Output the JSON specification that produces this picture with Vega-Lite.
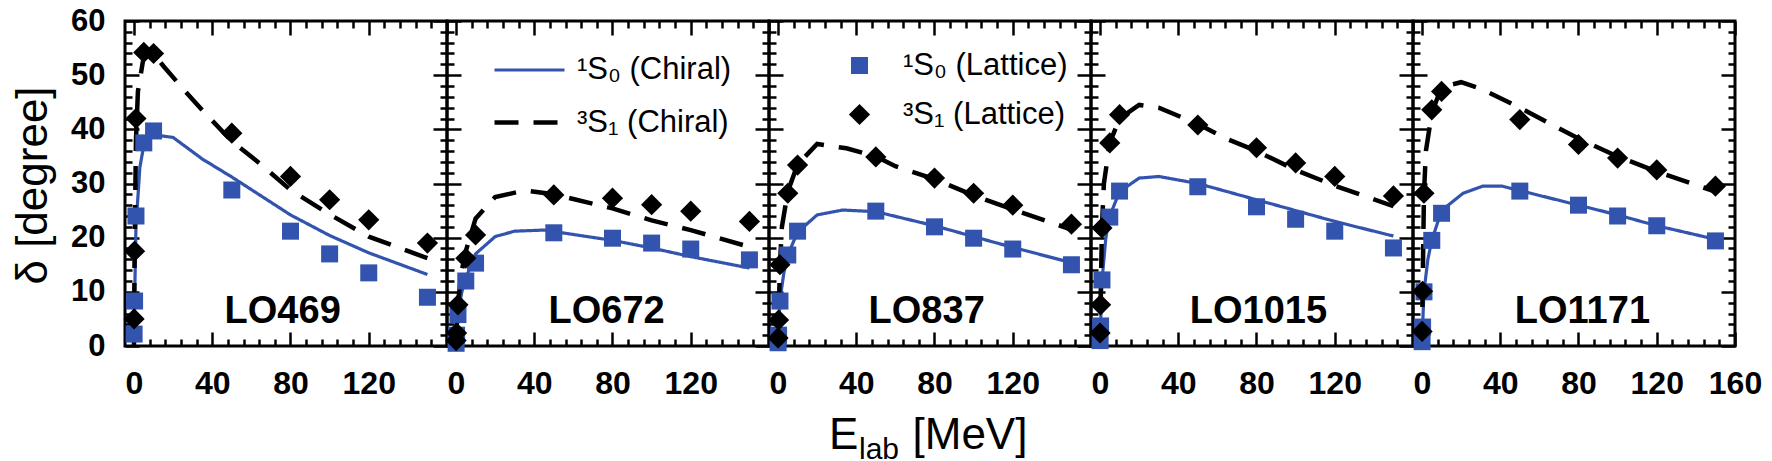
{
  "$schema": "https://vega.github.io/schema/vega-lite/v6.json",
  "background": "white",
  "padding": {"left": 9, "top": 3, "right": 5, "bottom": 5},
  "datasets": {
    "chiral": [
      {"panel": "LO469", "series": "¹S₀ (Chiral)", "E": 0, "delta": 0},
      {"panel": "LO469", "series": "¹S₀ (Chiral)", "E": 0.05, "delta": 2},
      {"panel": "LO469", "series": "¹S₀ (Chiral)", "E": 0.3, "delta": 8},
      {"panel": "LO469", "series": "¹S₀ (Chiral)", "E": 1, "delta": 22},
      {"panel": "LO469", "series": "¹S₀ (Chiral)", "E": 3, "delta": 33},
      {"panel": "LO469", "series": "¹S₀ (Chiral)", "E": 5, "delta": 37},
      {"panel": "LO469", "series": "¹S₀ (Chiral)", "E": 10, "delta": 39},
      {"panel": "LO469", "series": "¹S₀ (Chiral)", "E": 20, "delta": 38.5},
      {"panel": "LO469", "series": "¹S₀ (Chiral)", "E": 35, "delta": 34.5},
      {"panel": "LO469", "series": "¹S₀ (Chiral)", "E": 50, "delta": 31.2},
      {"panel": "LO469", "series": "¹S₀ (Chiral)", "E": 80, "delta": 24.2},
      {"panel": "LO469", "series": "¹S₀ (Chiral)", "E": 100, "delta": 20.4},
      {"panel": "LO469", "series": "¹S₀ (Chiral)", "E": 120, "delta": 17.2},
      {"panel": "LO469", "series": "¹S₀ (Chiral)", "E": 150, "delta": 13.2},
      {"panel": "LO469", "series": "³S₁ (Chiral)", "E": 0, "delta": 0},
      {"panel": "LO469", "series": "³S₁ (Chiral)", "E": 0.05, "delta": 5},
      {"panel": "LO469", "series": "³S₁ (Chiral)", "E": 0.3, "delta": 17},
      {"panel": "LO469", "series": "³S₁ (Chiral)", "E": 1, "delta": 38},
      {"panel": "LO469", "series": "³S₁ (Chiral)", "E": 2, "delta": 47},
      {"panel": "LO469", "series": "³S₁ (Chiral)", "E": 5, "delta": 53.5},
      {"panel": "LO469", "series": "³S₁ (Chiral)", "E": 10, "delta": 54},
      {"panel": "LO469", "series": "³S₁ (Chiral)", "E": 15, "delta": 51.7},
      {"panel": "LO469", "series": "³S₁ (Chiral)", "E": 25, "delta": 47.5},
      {"panel": "LO469", "series": "³S₁ (Chiral)", "E": 35, "delta": 43.5},
      {"panel": "LO469", "series": "³S₁ (Chiral)", "E": 50, "delta": 37.8},
      {"panel": "LO469", "series": "³S₁ (Chiral)", "E": 65, "delta": 33.5},
      {"panel": "LO469", "series": "³S₁ (Chiral)", "E": 80, "delta": 28.8},
      {"panel": "LO469", "series": "³S₁ (Chiral)", "E": 100, "delta": 24.3},
      {"panel": "LO469", "series": "³S₁ (Chiral)", "E": 120, "delta": 20.2},
      {"panel": "LO469", "series": "³S₁ (Chiral)", "E": 150, "delta": 16.2},

      {"panel": "LO672", "series": "¹S₀ (Chiral)", "E": 0, "delta": 0},
      {"panel": "LO672", "series": "¹S₀ (Chiral)", "E": 0.05, "delta": 0.8},
      {"panel": "LO672", "series": "¹S₀ (Chiral)", "E": 0.3, "delta": 2.5},
      {"panel": "LO672", "series": "¹S₀ (Chiral)", "E": 1, "delta": 6},
      {"panel": "LO672", "series": "¹S₀ (Chiral)", "E": 3, "delta": 10},
      {"panel": "LO672", "series": "¹S₀ (Chiral)", "E": 5, "delta": 12.5},
      {"panel": "LO672", "series": "¹S₀ (Chiral)", "E": 10, "delta": 17},
      {"panel": "LO672", "series": "¹S₀ (Chiral)", "E": 20, "delta": 20.2},
      {"panel": "LO672", "series": "¹S₀ (Chiral)", "E": 30, "delta": 21.2},
      {"panel": "LO672", "series": "¹S₀ (Chiral)", "E": 45, "delta": 21.4},
      {"panel": "LO672", "series": "¹S₀ (Chiral)", "E": 80, "delta": 19.5},
      {"panel": "LO672", "series": "¹S₀ (Chiral)", "E": 100, "delta": 18.1},
      {"panel": "LO672", "series": "¹S₀ (Chiral)", "E": 120, "delta": 16.5},
      {"panel": "LO672", "series": "¹S₀ (Chiral)", "E": 150, "delta": 14.4},
      {"panel": "LO672", "series": "³S₁ (Chiral)", "E": 0, "delta": 0},
      {"panel": "LO672", "series": "³S₁ (Chiral)", "E": 0.05, "delta": 1},
      {"panel": "LO672", "series": "³S₁ (Chiral)", "E": 0.3, "delta": 3},
      {"panel": "LO672", "series": "³S₁ (Chiral)", "E": 1, "delta": 8},
      {"panel": "LO672", "series": "³S₁ (Chiral)", "E": 3, "delta": 14},
      {"panel": "LO672", "series": "³S₁ (Chiral)", "E": 5, "delta": 17.5},
      {"panel": "LO672", "series": "³S₁ (Chiral)", "E": 10, "delta": 23.5},
      {"panel": "LO672", "series": "³S₁ (Chiral)", "E": 20, "delta": 27.5},
      {"panel": "LO672", "series": "³S₁ (Chiral)", "E": 35, "delta": 28.7},
      {"panel": "LO672", "series": "³S₁ (Chiral)", "E": 50, "delta": 28},
      {"panel": "LO672", "series": "³S₁ (Chiral)", "E": 80, "delta": 25.4},
      {"panel": "LO672", "series": "³S₁ (Chiral)", "E": 100, "delta": 23.2},
      {"panel": "LO672", "series": "³S₁ (Chiral)", "E": 120, "delta": 21.4},
      {"panel": "LO672", "series": "³S₁ (Chiral)", "E": 150, "delta": 18.3},

      {"panel": "LO837", "series": "¹S₀ (Chiral)", "E": 0, "delta": 0},
      {"panel": "LO837", "series": "¹S₀ (Chiral)", "E": 0.05, "delta": 0.8},
      {"panel": "LO837", "series": "¹S₀ (Chiral)", "E": 0.3, "delta": 3},
      {"panel": "LO837", "series": "¹S₀ (Chiral)", "E": 1, "delta": 8.5},
      {"panel": "LO837", "series": "¹S₀ (Chiral)", "E": 3, "delta": 13.5},
      {"panel": "LO837", "series": "¹S₀ (Chiral)", "E": 5, "delta": 16.8},
      {"panel": "LO837", "series": "¹S₀ (Chiral)", "E": 10, "delta": 21},
      {"panel": "LO837", "series": "¹S₀ (Chiral)", "E": 20, "delta": 24.2},
      {"panel": "LO837", "series": "¹S₀ (Chiral)", "E": 33, "delta": 25.1},
      {"panel": "LO837", "series": "¹S₀ (Chiral)", "E": 50, "delta": 24.8},
      {"panel": "LO837", "series": "¹S₀ (Chiral)", "E": 80, "delta": 22.2},
      {"panel": "LO837", "series": "¹S₀ (Chiral)", "E": 100, "delta": 20.2},
      {"panel": "LO837", "series": "¹S₀ (Chiral)", "E": 120, "delta": 18.2},
      {"panel": "LO837", "series": "¹S₀ (Chiral)", "E": 150, "delta": 15.4},
      {"panel": "LO837", "series": "³S₁ (Chiral)", "E": 0, "delta": 0},
      {"panel": "LO837", "series": "³S₁ (Chiral)", "E": 0.05, "delta": 1.5},
      {"panel": "LO837", "series": "³S₁ (Chiral)", "E": 0.3, "delta": 5},
      {"panel": "LO837", "series": "³S₁ (Chiral)", "E": 1, "delta": 15},
      {"panel": "LO837", "series": "³S₁ (Chiral)", "E": 2, "delta": 22},
      {"panel": "LO837", "series": "³S₁ (Chiral)", "E": 5, "delta": 28.5},
      {"panel": "LO837", "series": "³S₁ (Chiral)", "E": 10, "delta": 33.5},
      {"panel": "LO837", "series": "³S₁ (Chiral)", "E": 20, "delta": 37.3},
      {"panel": "LO837", "series": "³S₁ (Chiral)", "E": 35, "delta": 36.5},
      {"panel": "LO837", "series": "³S₁ (Chiral)", "E": 50, "delta": 35},
      {"panel": "LO837", "series": "³S₁ (Chiral)", "E": 60, "delta": 33.2},
      {"panel": "LO837", "series": "³S₁ (Chiral)", "E": 80, "delta": 30.8},
      {"panel": "LO837", "series": "³S₁ (Chiral)", "E": 100, "delta": 27.8},
      {"panel": "LO837", "series": "³S₁ (Chiral)", "E": 120, "delta": 25.2},
      {"panel": "LO837", "series": "³S₁ (Chiral)", "E": 150, "delta": 21.5},

      {"panel": "LO1015", "series": "¹S₀ (Chiral)", "E": 0, "delta": 0},
      {"panel": "LO1015", "series": "¹S₀ (Chiral)", "E": 0.05, "delta": 1},
      {"panel": "LO1015", "series": "¹S₀ (Chiral)", "E": 0.3, "delta": 4},
      {"panel": "LO1015", "series": "¹S₀ (Chiral)", "E": 1, "delta": 12},
      {"panel": "LO1015", "series": "¹S₀ (Chiral)", "E": 3, "delta": 20},
      {"panel": "LO1015", "series": "¹S₀ (Chiral)", "E": 5, "delta": 24},
      {"panel": "LO1015", "series": "¹S₀ (Chiral)", "E": 10, "delta": 28.5},
      {"panel": "LO1015", "series": "¹S₀ (Chiral)", "E": 20, "delta": 31},
      {"panel": "LO1015", "series": "¹S₀ (Chiral)", "E": 30, "delta": 31.3},
      {"panel": "LO1015", "series": "¹S₀ (Chiral)", "E": 50, "delta": 30},
      {"panel": "LO1015", "series": "¹S₀ (Chiral)", "E": 80, "delta": 27},
      {"panel": "LO1015", "series": "¹S₀ (Chiral)", "E": 100, "delta": 25},
      {"panel": "LO1015", "series": "¹S₀ (Chiral)", "E": 120, "delta": 23},
      {"panel": "LO1015", "series": "¹S₀ (Chiral)", "E": 150, "delta": 20.3},
      {"panel": "LO1015", "series": "³S₁ (Chiral)", "E": 0, "delta": 0},
      {"panel": "LO1015", "series": "³S₁ (Chiral)", "E": 0.05, "delta": 2.4},
      {"panel": "LO1015", "series": "³S₁ (Chiral)", "E": 0.3, "delta": 8},
      {"panel": "LO1015", "series": "³S₁ (Chiral)", "E": 1, "delta": 22},
      {"panel": "LO1015", "series": "³S₁ (Chiral)", "E": 2, "delta": 30},
      {"panel": "LO1015", "series": "³S₁ (Chiral)", "E": 5, "delta": 37.5},
      {"panel": "LO1015", "series": "³S₁ (Chiral)", "E": 10, "delta": 42},
      {"panel": "LO1015", "series": "³S₁ (Chiral)", "E": 20, "delta": 44.5},
      {"panel": "LO1015", "series": "³S₁ (Chiral)", "E": 30, "delta": 44},
      {"panel": "LO1015", "series": "³S₁ (Chiral)", "E": 50, "delta": 41},
      {"panel": "LO1015", "series": "³S₁ (Chiral)", "E": 65, "delta": 38.2},
      {"panel": "LO1015", "series": "³S₁ (Chiral)", "E": 80, "delta": 36},
      {"panel": "LO1015", "series": "³S₁ (Chiral)", "E": 100, "delta": 32.5},
      {"panel": "LO1015", "series": "³S₁ (Chiral)", "E": 120, "delta": 29.6},
      {"panel": "LO1015", "series": "³S₁ (Chiral)", "E": 150, "delta": 25.8},

      {"panel": "LO1171", "series": "¹S₀ (Chiral)", "E": 0, "delta": 0},
      {"panel": "LO1171", "series": "¹S₀ (Chiral)", "E": 0.05, "delta": 0.8},
      {"panel": "LO1171", "series": "¹S₀ (Chiral)", "E": 0.3, "delta": 3.5},
      {"panel": "LO1171", "series": "¹S₀ (Chiral)", "E": 1, "delta": 10},
      {"panel": "LO1171", "series": "¹S₀ (Chiral)", "E": 3, "delta": 16},
      {"panel": "LO1171", "series": "¹S₀ (Chiral)", "E": 5, "delta": 19.5},
      {"panel": "LO1171", "series": "¹S₀ (Chiral)", "E": 10, "delta": 25},
      {"panel": "LO1171", "series": "¹S₀ (Chiral)", "E": 21, "delta": 28.2},
      {"panel": "LO1171", "series": "¹S₀ (Chiral)", "E": 31, "delta": 29.5},
      {"panel": "LO1171", "series": "¹S₀ (Chiral)", "E": 41, "delta": 29.5},
      {"panel": "LO1171", "series": "¹S₀ (Chiral)", "E": 51, "delta": 28.6},
      {"panel": "LO1171", "series": "¹S₀ (Chiral)", "E": 80, "delta": 26},
      {"panel": "LO1171", "series": "¹S₀ (Chiral)", "E": 100, "delta": 24.2},
      {"panel": "LO1171", "series": "¹S₀ (Chiral)", "E": 120, "delta": 22.2},
      {"panel": "LO1171", "series": "¹S₀ (Chiral)", "E": 150, "delta": 19.7},
      {"panel": "LO1171", "series": "³S₁ (Chiral)", "E": 0, "delta": 0},
      {"panel": "LO1171", "series": "³S₁ (Chiral)", "E": 0.05, "delta": 2.7},
      {"panel": "LO1171", "series": "³S₁ (Chiral)", "E": 0.3, "delta": 10},
      {"panel": "LO1171", "series": "³S₁ (Chiral)", "E": 1, "delta": 28},
      {"panel": "LO1171", "series": "³S₁ (Chiral)", "E": 2, "delta": 36},
      {"panel": "LO1171", "series": "³S₁ (Chiral)", "E": 5, "delta": 43},
      {"panel": "LO1171", "series": "³S₁ (Chiral)", "E": 10, "delta": 47.8},
      {"panel": "LO1171", "series": "³S₁ (Chiral)", "E": 20, "delta": 48.7},
      {"panel": "LO1171", "series": "³S₁ (Chiral)", "E": 30, "delta": 47.5},
      {"panel": "LO1171", "series": "³S₁ (Chiral)", "E": 50, "delta": 44},
      {"panel": "LO1171", "series": "³S₁ (Chiral)", "E": 80, "delta": 38.3},
      {"panel": "LO1171", "series": "³S₁ (Chiral)", "E": 100, "delta": 35},
      {"panel": "LO1171", "series": "³S₁ (Chiral)", "E": 120, "delta": 32.2},
      {"panel": "LO1171", "series": "³S₁ (Chiral)", "E": 150, "delta": 28.5}
    ],
    "lattice": [
      {"panel": "LO469", "series": "¹S₀ (Lattice)", "E": 0.05, "delta": 2.2},
      {"panel": "LO469", "series": "¹S₀ (Lattice)", "E": 0.3, "delta": 8.3},
      {"panel": "LO469", "series": "¹S₀ (Lattice)", "E": 1, "delta": 24.0},
      {"panel": "LO469", "series": "¹S₀ (Lattice)", "E": 5, "delta": 37.5},
      {"panel": "LO469", "series": "¹S₀ (Lattice)", "E": 10, "delta": 39.7},
      {"panel": "LO469", "series": "¹S₀ (Lattice)", "E": 50, "delta": 28.8},
      {"panel": "LO469", "series": "¹S₀ (Lattice)", "E": 80, "delta": 21.2},
      {"panel": "LO469", "series": "¹S₀ (Lattice)", "E": 100, "delta": 17.0},
      {"panel": "LO469", "series": "¹S₀ (Lattice)", "E": 120, "delta": 13.5},
      {"panel": "LO469", "series": "¹S₀ (Lattice)", "E": 150, "delta": 9.0},
      {"panel": "LO469", "series": "³S₁ (Lattice)", "E": 0.05, "delta": 5.0},
      {"panel": "LO469", "series": "³S₁ (Lattice)", "E": 0.3, "delta": 17.5},
      {"panel": "LO469", "series": "³S₁ (Lattice)", "E": 1, "delta": 42.0},
      {"panel": "LO469", "series": "³S₁ (Lattice)", "E": 5, "delta": 54.2},
      {"panel": "LO469", "series": "³S₁ (Lattice)", "E": 10, "delta": 54.0},
      {"panel": "LO469", "series": "³S₁ (Lattice)", "E": 50, "delta": 39.3},
      {"panel": "LO469", "series": "³S₁ (Lattice)", "E": 80, "delta": 31.3},
      {"panel": "LO469", "series": "³S₁ (Lattice)", "E": 100, "delta": 27.0},
      {"panel": "LO469", "series": "³S₁ (Lattice)", "E": 120, "delta": 23.3},
      {"panel": "LO469", "series": "³S₁ (Lattice)", "E": 150, "delta": 19.0},

      {"panel": "LO672", "series": "¹S₀ (Lattice)", "E": 0.05, "delta": 0.5},
      {"panel": "LO672", "series": "¹S₀ (Lattice)", "E": 0.3, "delta": 2.0},
      {"panel": "LO672", "series": "¹S₀ (Lattice)", "E": 1, "delta": 5.8},
      {"panel": "LO672", "series": "¹S₀ (Lattice)", "E": 5, "delta": 12.0},
      {"panel": "LO672", "series": "¹S₀ (Lattice)", "E": 10, "delta": 15.3},
      {"panel": "LO672", "series": "¹S₀ (Lattice)", "E": 50, "delta": 20.9},
      {"panel": "LO672", "series": "¹S₀ (Lattice)", "E": 80, "delta": 19.9},
      {"panel": "LO672", "series": "¹S₀ (Lattice)", "E": 100, "delta": 19.0},
      {"panel": "LO672", "series": "¹S₀ (Lattice)", "E": 120, "delta": 17.9},
      {"panel": "LO672", "series": "¹S₀ (Lattice)", "E": 150, "delta": 15.9},
      {"panel": "LO672", "series": "³S₁ (Lattice)", "E": 0.05, "delta": 1.0},
      {"panel": "LO672", "series": "³S₁ (Lattice)", "E": 0.3, "delta": 2.4},
      {"panel": "LO672", "series": "³S₁ (Lattice)", "E": 1, "delta": 7.6},
      {"panel": "LO672", "series": "³S₁ (Lattice)", "E": 5, "delta": 16.2},
      {"panel": "LO672", "series": "³S₁ (Lattice)", "E": 10, "delta": 20.5},
      {"panel": "LO672", "series": "³S₁ (Lattice)", "E": 50, "delta": 27.9},
      {"panel": "LO672", "series": "³S₁ (Lattice)", "E": 80, "delta": 27.3},
      {"panel": "LO672", "series": "³S₁ (Lattice)", "E": 100, "delta": 26.1},
      {"panel": "LO672", "series": "³S₁ (Lattice)", "E": 120, "delta": 24.9},
      {"panel": "LO672", "series": "³S₁ (Lattice)", "E": 150, "delta": 23.0},

      {"panel": "LO837", "series": "¹S₀ (Lattice)", "E": 0.05, "delta": 0.6},
      {"panel": "LO837", "series": "¹S₀ (Lattice)", "E": 0.3, "delta": 2.0},
      {"panel": "LO837", "series": "¹S₀ (Lattice)", "E": 1, "delta": 8.3},
      {"panel": "LO837", "series": "¹S₀ (Lattice)", "E": 5, "delta": 16.8},
      {"panel": "LO837", "series": "¹S₀ (Lattice)", "E": 10, "delta": 21.2},
      {"panel": "LO837", "series": "¹S₀ (Lattice)", "E": 50, "delta": 24.9},
      {"panel": "LO837", "series": "¹S₀ (Lattice)", "E": 80, "delta": 22.0},
      {"panel": "LO837", "series": "¹S₀ (Lattice)", "E": 100, "delta": 19.9},
      {"panel": "LO837", "series": "¹S₀ (Lattice)", "E": 120, "delta": 17.9},
      {"panel": "LO837", "series": "¹S₀ (Lattice)", "E": 150, "delta": 15.0},
      {"panel": "LO837", "series": "³S₁ (Lattice)", "E": 0.05, "delta": 1.5},
      {"panel": "LO837", "series": "³S₁ (Lattice)", "E": 0.3, "delta": 4.8},
      {"panel": "LO837", "series": "³S₁ (Lattice)", "E": 1, "delta": 15.0},
      {"panel": "LO837", "series": "³S₁ (Lattice)", "E": 5, "delta": 28.2},
      {"panel": "LO837", "series": "³S₁ (Lattice)", "E": 10, "delta": 33.4},
      {"panel": "LO837", "series": "³S₁ (Lattice)", "E": 50, "delta": 34.9},
      {"panel": "LO837", "series": "³S₁ (Lattice)", "E": 80, "delta": 31.0},
      {"panel": "LO837", "series": "³S₁ (Lattice)", "E": 100, "delta": 28.2},
      {"panel": "LO837", "series": "³S₁ (Lattice)", "E": 120, "delta": 26.0},
      {"panel": "LO837", "series": "³S₁ (Lattice)", "E": 150, "delta": 22.5},

      {"panel": "LO1015", "series": "¹S₀ (Lattice)", "E": 0.05, "delta": 1.0},
      {"panel": "LO1015", "series": "¹S₀ (Lattice)", "E": 0.3, "delta": 3.7},
      {"panel": "LO1015", "series": "¹S₀ (Lattice)", "E": 1, "delta": 12.2},
      {"panel": "LO1015", "series": "¹S₀ (Lattice)", "E": 5, "delta": 23.8},
      {"panel": "LO1015", "series": "¹S₀ (Lattice)", "E": 10, "delta": 28.6},
      {"panel": "LO1015", "series": "¹S₀ (Lattice)", "E": 50, "delta": 29.4},
      {"panel": "LO1015", "series": "¹S₀ (Lattice)", "E": 80, "delta": 25.7},
      {"panel": "LO1015", "series": "¹S₀ (Lattice)", "E": 100, "delta": 23.4},
      {"panel": "LO1015", "series": "¹S₀ (Lattice)", "E": 120, "delta": 21.2},
      {"panel": "LO1015", "series": "¹S₀ (Lattice)", "E": 150, "delta": 18.1},
      {"panel": "LO1015", "series": "³S₁ (Lattice)", "E": 0.05, "delta": 2.4},
      {"panel": "LO1015", "series": "³S₁ (Lattice)", "E": 0.3, "delta": 7.6},
      {"panel": "LO1015", "series": "³S₁ (Lattice)", "E": 1, "delta": 21.8},
      {"panel": "LO1015", "series": "³S₁ (Lattice)", "E": 5, "delta": 37.5},
      {"panel": "LO1015", "series": "³S₁ (Lattice)", "E": 10, "delta": 42.7},
      {"panel": "LO1015", "series": "³S₁ (Lattice)", "E": 50, "delta": 40.8},
      {"panel": "LO1015", "series": "³S₁ (Lattice)", "E": 80, "delta": 36.6},
      {"panel": "LO1015", "series": "³S₁ (Lattice)", "E": 100, "delta": 33.8},
      {"panel": "LO1015", "series": "³S₁ (Lattice)", "E": 120, "delta": 31.3},
      {"panel": "LO1015", "series": "³S₁ (Lattice)", "E": 150, "delta": 27.7},

      {"panel": "LO1171", "series": "¹S₀ (Lattice)", "E": 0.05, "delta": 0.8},
      {"panel": "LO1171", "series": "¹S₀ (Lattice)", "E": 0.3, "delta": 3.5},
      {"panel": "LO1171", "series": "¹S₀ (Lattice)", "E": 1, "delta": 10.0},
      {"panel": "LO1171", "series": "¹S₀ (Lattice)", "E": 5, "delta": 19.5},
      {"panel": "LO1171", "series": "¹S₀ (Lattice)", "E": 10, "delta": 24.5},
      {"panel": "LO1171", "series": "¹S₀ (Lattice)", "E": 50, "delta": 28.6},
      {"panel": "LO1171", "series": "¹S₀ (Lattice)", "E": 80, "delta": 26.0},
      {"panel": "LO1171", "series": "¹S₀ (Lattice)", "E": 100, "delta": 24.0},
      {"panel": "LO1171", "series": "¹S₀ (Lattice)", "E": 120, "delta": 22.2},
      {"panel": "LO1171", "series": "¹S₀ (Lattice)", "E": 150, "delta": 19.4},
      {"panel": "LO1171", "series": "³S₁ (Lattice)", "E": 0.05, "delta": 2.7},
      {"panel": "LO1171", "series": "³S₁ (Lattice)", "E": 0.3, "delta": 10.1},
      {"panel": "LO1171", "series": "³S₁ (Lattice)", "E": 1, "delta": 28.2},
      {"panel": "LO1171", "series": "³S₁ (Lattice)", "E": 5, "delta": 43.6},
      {"panel": "LO1171", "series": "³S₁ (Lattice)", "E": 10, "delta": 47.0},
      {"panel": "LO1171", "series": "³S₁ (Lattice)", "E": 50, "delta": 41.8},
      {"panel": "LO1171", "series": "³S₁ (Lattice)", "E": 80, "delta": 37.2},
      {"panel": "LO1171", "series": "³S₁ (Lattice)", "E": 100, "delta": 34.7},
      {"panel": "LO1171", "series": "³S₁ (Lattice)", "E": 120, "delta": 32.5},
      {"panel": "LO1171", "series": "³S₁ (Lattice)", "E": 150, "delta": 29.5}
    ]
  },
  "spacing": 0,
  "bounds": "flush",
  "hconcat": [
    {
      "width": 322, "height": 325,
      "resolve": {"axis": {"x": "independent", "y": "independent"}},
      "layer": [
        {
          "data": {"name": "chiral"},
          "transform": [{"filter": "datum.panel === 'LO469'"}],
          "mark": {"type": "line"},
          "encoding": {
            "x": {"field": "E", "type": "quantitative", "scale": {"domain": [-4.6, 160], "nice": false},
                  "axis": {"orient": "bottom", "values": [0, 40, 80, 120], "tickSize": -14, "labelPadding": 36, "labelFontSize": 32, "title": null}},
            "y": {"field": "delta", "type": "quantitative", "scale": {"domain": [0, 60], "nice": false},
                  "axis": {"orient": "left", "values": [0, 10, 20, 30, 40, 50, 60], "tickSize": -14, "labelPadding": 34, "labelFontSize": 31,
                           "title": "δ [degree]", "titleFontSize": 44, "titleX": -92, "titleY": 164, "titleAngle": -90, "titleAlign": "center", "titleBaseline": "middle"}},
            "stroke": {"field": "series", "type": "nominal", "scale": {"domain": ["¹S₀ (Chiral)", "³S₁ (Chiral)"], "range": ["#3253ae", "#000000"]},
                       "legend": {"orient": "none", "legendX": 367, "legendY": 12, "title": null, "symbolSize": 4900, "labelOffset": 10, "labelFontSize": 31, "rowPadding": -29, "padding": 0}},
            "strokeDash": {"field": "series", "type": "nominal", "scale": {"domain": ["¹S₀ (Chiral)", "³S₁ (Chiral)"], "range": [[1, 0], [24, 15]]},
                       "legend": {"orient": "none", "legendX": 367, "legendY": 12, "title": null, "symbolSize": 4900, "labelOffset": 10, "labelFontSize": 31, "rowPadding": -29, "padding": 0}},
            "strokeWidth": {"field": "series", "type": "nominal", "scale": {"domain": ["¹S₀ (Chiral)", "³S₁ (Chiral)"], "range": [3.2, 4.5]},
                       "legend": {"orient": "none", "legendX": 367, "legendY": 12, "title": null, "symbolSize": 4900, "labelOffset": 10, "labelFontSize": 31, "rowPadding": -29, "padding": 0}}
          }
        },
        {
          "data": {"name": "lattice"},
          "transform": [{"filter": "datum.panel === 'LO469'"}],
          "mark": {"type": "point", "filled": true, "opacity": 1, "strokeWidth": 0},
          "encoding": {
            "x": {"field": "E", "type": "quantitative", "scale": {"domain": [-4.6, 160], "nice": false},
                  "axis": {"orient": "bottom", "values": [8, 16, 24, 32, 48, 56, 64, 72, 88, 96, 104, 112, 128, 136, 144, 152], "tickSize": -7, "labels": false, "title": null}},
            "y": {"field": "delta", "type": "quantitative", "scale": {"domain": [0, 60], "nice": false},
                  "axis": {"orient": "left", "values": [2, 4, 6, 8, 12, 14, 16, 18, 22, 24, 26, 28, 32, 34, 36, 38, 42, 44, 46, 48, 52, 54, 56, 58], "tickSize": -7, "labels": false, "title": null}},
            "shape": {"field": "series", "type": "nominal", "scale": {"domain": ["¹S₀ (Lattice)", "³S₁ (Lattice)"], "range": ["square", "diamond"]},
                      "legend": {"orient": "none", "legendX": 719, "legendY": 29, "title": null, "labelOffset": 28, "labelFontSize": 31, "rowPadding": 17, "padding": 0, "symbolStrokeWidth": 0}},
            "fill": {"field": "series", "type": "nominal", "scale": {"domain": ["¹S₀ (Lattice)", "³S₁ (Lattice)"], "range": ["#3253ae", "#000000"]},
                     "legend": {"orient": "none", "legendX": 719, "legendY": 29, "title": null, "labelOffset": 28, "labelFontSize": 31, "rowPadding": 17, "padding": 0, "symbolStrokeWidth": 0}},
            "size": {"field": "series", "type": "nominal", "scale": {"domain": ["¹S₀ (Lattice)", "³S₁ (Lattice)"], "range": [289, 450]},
                     "legend": {"orient": "none", "legendX": 719, "legendY": 29, "title": null, "labelOffset": 28, "labelFontSize": 31, "rowPadding": 17, "padding": 0, "symbolStrokeWidth": 0}}
          }
        },
        {
          "data": {"name": "chiral"},
          "mark": {"type": "point", "opacity": 0},
          "encoding": {
            "x": {"field": "E", "type": "quantitative", "scale": {"domain": [-4.6, 160], "nice": false},
                  "axis": {"orient": "top", "values": [0, 40, 80, 120, 160], "tickSize": -14, "labels": false, "title": null}},
            "y": {"field": "delta", "type": "quantitative", "scale": {"domain": [0, 60], "nice": false},
                  "axis": {"orient": "right", "values": [0, 10, 20, 30, 40, 50, 60], "tickSize": -14, "labels": false, "title": null}}
          }
        },
        {
          "data": {"name": "chiral"},
          "mark": {"type": "point", "opacity": 0},
          "encoding": {
            "x": {"field": "E", "type": "quantitative", "scale": {"domain": [-4.6, 160], "nice": false},
                  "axis": {"orient": "top", "values": [8, 16, 24, 32, 48, 56, 64, 72, 88, 96, 104, 112, 128, 136, 144, 152], "tickSize": -7, "labels": false, "title": null}},
            "y": {"field": "delta", "type": "quantitative", "scale": {"domain": [0, 60], "nice": false},
                  "axis": {"orient": "right", "values": [2, 4, 6, 8, 12, 14, 16, 18, 22, 24, 26, 28, 32, 34, 36, 38, 42, 44, 46, 48, 52, 54, 56, 58], "tickSize": -7, "labels": false, "title": null}}
          }
        },
        {
          "data": {"values": [{"label": "LO469"}]},
          "mark": {"type": "text", "font": "Liberation Sans", "fontSize": 38, "fontWeight": "bold", "color": "#000000", "align": "center", "baseline": "alphabetic"},
          "encoding": {
            "x": {"datum": 76, "type": "quantitative", "scale": {"domain": [-4.6, 160], "nice": false}, "axis": null},
            "y": {"datum": 4.25, "type": "quantitative", "scale": {"domain": [0, 60], "nice": false}, "axis": null},
            "text": {"field": "label"}
          }
        }
      ]
    },
    {
      "width": 322, "height": 325,
      "resolve": {"axis": {"x": "independent", "y": "independent"}},
      "layer": [
        {
          "data": {"name": "chiral"},
          "transform": [{"filter": "datum.panel === 'LO672'"}],
          "mark": {"type": "line"},
          "encoding": {
            "x": {"field": "E", "type": "quantitative", "scale": {"domain": [-4.6, 160], "nice": false},
                  "axis": {"orient": "bottom", "values": [0, 40, 80, 120], "tickSize": -14, "labelPadding": 36, "labelFontSize": 32, "title": null}},
            "y": {"field": "delta", "type": "quantitative", "scale": {"domain": [0, 60], "nice": false},
                  "axis": {"orient": "left", "values": [0, 10, 20, 30, 40, 50, 60], "tickSize": -14, "labels": false, "title": null}},
            "stroke": {"field": "series", "type": "nominal", "scale": {"domain": ["¹S₀ (Chiral)", "³S₁ (Chiral)"], "range": ["#3253ae", "#000000"]},
                       "legend": {"orient": "none", "legendX": 367, "legendY": 12, "title": null, "symbolSize": 4900, "labelOffset": 10, "labelFontSize": 31, "rowPadding": -29, "padding": 0}},
            "strokeDash": {"field": "series", "type": "nominal", "scale": {"domain": ["¹S₀ (Chiral)", "³S₁ (Chiral)"], "range": [[1, 0], [24, 15]]},
                       "legend": {"orient": "none", "legendX": 367, "legendY": 12, "title": null, "symbolSize": 4900, "labelOffset": 10, "labelFontSize": 31, "rowPadding": -29, "padding": 0}},
            "strokeWidth": {"field": "series", "type": "nominal", "scale": {"domain": ["¹S₀ (Chiral)", "³S₁ (Chiral)"], "range": [3.2, 4.5]},
                       "legend": {"orient": "none", "legendX": 367, "legendY": 12, "title": null, "symbolSize": 4900, "labelOffset": 10, "labelFontSize": 31, "rowPadding": -29, "padding": 0}}
          }
        },
        {
          "data": {"name": "lattice"},
          "transform": [{"filter": "datum.panel === 'LO672'"}],
          "mark": {"type": "point", "filled": true, "opacity": 1, "strokeWidth": 0},
          "encoding": {
            "x": {"field": "E", "type": "quantitative", "scale": {"domain": [-4.6, 160], "nice": false},
                  "axis": {"orient": "bottom", "values": [8, 16, 24, 32, 48, 56, 64, 72, 88, 96, 104, 112, 128, 136, 144, 152], "tickSize": -7, "labels": false, "title": null}},
            "y": {"field": "delta", "type": "quantitative", "scale": {"domain": [0, 60], "nice": false},
                  "axis": {"orient": "left", "values": [2, 4, 6, 8, 12, 14, 16, 18, 22, 24, 26, 28, 32, 34, 36, 38, 42, 44, 46, 48, 52, 54, 56, 58], "tickSize": -7, "labels": false, "title": null}},
            "shape": {"field": "series", "type": "nominal", "scale": {"domain": ["¹S₀ (Lattice)", "³S₁ (Lattice)"], "range": ["square", "diamond"]},
                      "legend": {"orient": "none", "legendX": 719, "legendY": 29, "title": null, "labelOffset": 28, "labelFontSize": 31, "rowPadding": 17, "padding": 0, "symbolStrokeWidth": 0}},
            "fill": {"field": "series", "type": "nominal", "scale": {"domain": ["¹S₀ (Lattice)", "³S₁ (Lattice)"], "range": ["#3253ae", "#000000"]},
                     "legend": {"orient": "none", "legendX": 719, "legendY": 29, "title": null, "labelOffset": 28, "labelFontSize": 31, "rowPadding": 17, "padding": 0, "symbolStrokeWidth": 0}},
            "size": {"field": "series", "type": "nominal", "scale": {"domain": ["¹S₀ (Lattice)", "³S₁ (Lattice)"], "range": [289, 450]},
                     "legend": {"orient": "none", "legendX": 719, "legendY": 29, "title": null, "labelOffset": 28, "labelFontSize": 31, "rowPadding": 17, "padding": 0, "symbolStrokeWidth": 0}}
          }
        },
        {
          "data": {"name": "chiral"},
          "mark": {"type": "point", "opacity": 0},
          "encoding": {
            "x": {"field": "E", "type": "quantitative", "scale": {"domain": [-4.6, 160], "nice": false},
                  "axis": {"orient": "top", "values": [0, 40, 80, 120, 160], "tickSize": -14, "labels": false, "title": null}},
            "y": {"field": "delta", "type": "quantitative", "scale": {"domain": [0, 60], "nice": false},
                  "axis": {"orient": "right", "values": [0, 10, 20, 30, 40, 50, 60], "tickSize": -14, "labels": false, "title": null}}
          }
        },
        {
          "data": {"name": "chiral"},
          "mark": {"type": "point", "opacity": 0},
          "encoding": {
            "x": {"field": "E", "type": "quantitative", "scale": {"domain": [-4.6, 160], "nice": false},
                  "axis": {"orient": "top", "values": [8, 16, 24, 32, 48, 56, 64, 72, 88, 96, 104, 112, 128, 136, 144, 152], "tickSize": -7, "labels": false, "title": null}},
            "y": {"field": "delta", "type": "quantitative", "scale": {"domain": [0, 60], "nice": false},
                  "axis": {"orient": "right", "values": [2, 4, 6, 8, 12, 14, 16, 18, 22, 24, 26, 28, 32, 34, 36, 38, 42, 44, 46, 48, 52, 54, 56, 58], "tickSize": -7, "labels": false, "title": null}}
          }
        },
        {
          "data": {"values": [{"label": "LO672"}]},
          "mark": {"type": "text", "font": "Liberation Sans", "fontSize": 38, "fontWeight": "bold", "color": "#000000", "align": "center", "baseline": "alphabetic"},
          "encoding": {
            "x": {"datum": 77, "type": "quantitative", "scale": {"domain": [-4.6, 160], "nice": false}, "axis": null},
            "y": {"datum": 4.25, "type": "quantitative", "scale": {"domain": [0, 60], "nice": false}, "axis": null},
            "text": {"field": "label"}
          }
        }
      ]
    },
    {
      "width": 322, "height": 325,
      "resolve": {"axis": {"x": "independent", "y": "independent"}},
      "layer": [
        {
          "data": {"name": "chiral"},
          "transform": [{"filter": "datum.panel === 'LO837'"}],
          "mark": {"type": "line"},
          "encoding": {
            "x": {"field": "E", "type": "quantitative", "scale": {"domain": [-4.6, 160], "nice": false},
                  "axis": {"orient": "bottom", "values": [0, 40, 80, 120], "tickSize": -14, "labelPadding": 36, "labelFontSize": 32,
                           "title": "E", "titleFontSize": 44, "titleX": 59.5, "titleY": 102, "titleAngle": 0, "titleAlign": "left", "titleBaseline": "alphabetic"}},
            "y": {"field": "delta", "type": "quantitative", "scale": {"domain": [0, 60], "nice": false},
                  "axis": {"orient": "left", "values": [0, 10, 20, 30, 40, 50, 60], "tickSize": -14, "labels": false, "title": null}},
            "stroke": {"field": "series", "type": "nominal", "scale": {"domain": ["¹S₀ (Chiral)", "³S₁ (Chiral)"], "range": ["#3253ae", "#000000"]},
                       "legend": {"orient": "none", "legendX": 367, "legendY": 12, "title": null, "symbolSize": 4900, "labelOffset": 10, "labelFontSize": 31, "rowPadding": -29, "padding": 0}},
            "strokeDash": {"field": "series", "type": "nominal", "scale": {"domain": ["¹S₀ (Chiral)", "³S₁ (Chiral)"], "range": [[1, 0], [24, 15]]},
                       "legend": {"orient": "none", "legendX": 367, "legendY": 12, "title": null, "symbolSize": 4900, "labelOffset": 10, "labelFontSize": 31, "rowPadding": -29, "padding": 0}},
            "strokeWidth": {"field": "series", "type": "nominal", "scale": {"domain": ["¹S₀ (Chiral)", "³S₁ (Chiral)"], "range": [3.2, 4.5]},
                       "legend": {"orient": "none", "legendX": 367, "legendY": 12, "title": null, "symbolSize": 4900, "labelOffset": 10, "labelFontSize": 31, "rowPadding": -29, "padding": 0}}
          }
        },
        {
          "data": {"name": "lattice"},
          "transform": [{"filter": "datum.panel === 'LO837'"}],
          "mark": {"type": "point", "filled": true, "opacity": 1, "strokeWidth": 0},
          "encoding": {
            "x": {"field": "E", "type": "quantitative", "scale": {"domain": [-4.6, 160], "nice": false},
                  "axis": {"orient": "bottom", "values": [8, 16, 24, 32, 48, 56, 64, 72, 88, 96, 104, 112, 128, 136, 144, 152], "tickSize": -7, "labels": false,
                           "title": "lab", "titleFontSize": 30, "titleX": 89.5, "titleY": 112, "titleAngle": 0, "titleAlign": "left", "titleBaseline": "alphabetic"}},
            "y": {"field": "delta", "type": "quantitative", "scale": {"domain": [0, 60], "nice": false},
                  "axis": {"orient": "left", "values": [2, 4, 6, 8, 12, 14, 16, 18, 22, 24, 26, 28, 32, 34, 36, 38, 42, 44, 46, 48, 52, 54, 56, 58], "tickSize": -7, "labels": false, "title": null}},
            "shape": {"field": "series", "type": "nominal", "scale": {"domain": ["¹S₀ (Lattice)", "³S₁ (Lattice)"], "range": ["square", "diamond"]},
                      "legend": {"orient": "none", "legendX": 719, "legendY": 29, "title": null, "labelOffset": 28, "labelFontSize": 31, "rowPadding": 17, "padding": 0, "symbolStrokeWidth": 0}},
            "fill": {"field": "series", "type": "nominal", "scale": {"domain": ["¹S₀ (Lattice)", "³S₁ (Lattice)"], "range": ["#3253ae", "#000000"]},
                     "legend": {"orient": "none", "legendX": 719, "legendY": 29, "title": null, "labelOffset": 28, "labelFontSize": 31, "rowPadding": 17, "padding": 0, "symbolStrokeWidth": 0}},
            "size": {"field": "series", "type": "nominal", "scale": {"domain": ["¹S₀ (Lattice)", "³S₁ (Lattice)"], "range": [289, 450]},
                     "legend": {"orient": "none", "legendX": 719, "legendY": 29, "title": null, "labelOffset": 28, "labelFontSize": 31, "rowPadding": 17, "padding": 0, "symbolStrokeWidth": 0}}
          }
        },
        {
          "data": {"name": "chiral"},
          "mark": {"type": "point", "opacity": 0},
          "encoding": {
            "x": {"field": "E", "type": "quantitative", "scale": {"domain": [-4.6, 160], "nice": false},
                  "axis": {"orient": "top", "values": [0, 40, 80, 120, 160], "tickSize": -14, "labels": false,
                           "title": "[MeV]", "titleFontSize": 44, "titleX": 143, "titleY": 427, "titleAngle": 0, "titleAlign": "left", "titleBaseline": "alphabetic"}},
            "y": {"field": "delta", "type": "quantitative", "scale": {"domain": [0, 60], "nice": false},
                  "axis": {"orient": "right", "values": [0, 10, 20, 30, 40, 50, 60], "tickSize": -14, "labels": false, "title": null}}
          }
        },
        {
          "data": {"name": "chiral"},
          "mark": {"type": "point", "opacity": 0},
          "encoding": {
            "x": {"field": "E", "type": "quantitative", "scale": {"domain": [-4.6, 160], "nice": false},
                  "axis": {"orient": "top", "values": [8, 16, 24, 32, 48, 56, 64, 72, 88, 96, 104, 112, 128, 136, 144, 152], "tickSize": -7, "labels": false, "title": null}},
            "y": {"field": "delta", "type": "quantitative", "scale": {"domain": [0, 60], "nice": false},
                  "axis": {"orient": "right", "values": [2, 4, 6, 8, 12, 14, 16, 18, 22, 24, 26, 28, 32, 34, 36, 38, 42, 44, 46, 48, 52, 54, 56, 58], "tickSize": -7, "labels": false, "title": null}}
          }
        },
        {
          "data": {"values": [{"label": "LO837"}]},
          "mark": {"type": "text", "font": "Liberation Sans", "fontSize": 38, "fontWeight": "bold", "color": "#000000", "align": "center", "baseline": "alphabetic"},
          "encoding": {
            "x": {"datum": 76, "type": "quantitative", "scale": {"domain": [-4.6, 160], "nice": false}, "axis": null},
            "y": {"datum": 4.25, "type": "quantitative", "scale": {"domain": [0, 60], "nice": false}, "axis": null},
            "text": {"field": "label"}
          }
        }
      ]
    },
    {
      "width": 322, "height": 325,
      "resolve": {"axis": {"x": "independent", "y": "independent"}},
      "layer": [
        {
          "data": {"name": "chiral"},
          "transform": [{"filter": "datum.panel === 'LO1015'"}],
          "mark": {"type": "line"},
          "encoding": {
            "x": {"field": "E", "type": "quantitative", "scale": {"domain": [-4.6, 160], "nice": false},
                  "axis": {"orient": "bottom", "values": [0, 40, 80, 120], "tickSize": -14, "labelPadding": 36, "labelFontSize": 32, "title": null}},
            "y": {"field": "delta", "type": "quantitative", "scale": {"domain": [0, 60], "nice": false},
                  "axis": {"orient": "left", "values": [0, 10, 20, 30, 40, 50, 60], "tickSize": -14, "labels": false, "title": null}},
            "stroke": {"field": "series", "type": "nominal", "scale": {"domain": ["¹S₀ (Chiral)", "³S₁ (Chiral)"], "range": ["#3253ae", "#000000"]},
                       "legend": {"orient": "none", "legendX": 367, "legendY": 12, "title": null, "symbolSize": 4900, "labelOffset": 10, "labelFontSize": 31, "rowPadding": -29, "padding": 0}},
            "strokeDash": {"field": "series", "type": "nominal", "scale": {"domain": ["¹S₀ (Chiral)", "³S₁ (Chiral)"], "range": [[1, 0], [24, 15]]},
                       "legend": {"orient": "none", "legendX": 367, "legendY": 12, "title": null, "symbolSize": 4900, "labelOffset": 10, "labelFontSize": 31, "rowPadding": -29, "padding": 0}},
            "strokeWidth": {"field": "series", "type": "nominal", "scale": {"domain": ["¹S₀ (Chiral)", "³S₁ (Chiral)"], "range": [3.2, 4.5]},
                       "legend": {"orient": "none", "legendX": 367, "legendY": 12, "title": null, "symbolSize": 4900, "labelOffset": 10, "labelFontSize": 31, "rowPadding": -29, "padding": 0}}
          }
        },
        {
          "data": {"name": "lattice"},
          "transform": [{"filter": "datum.panel === 'LO1015'"}],
          "mark": {"type": "point", "filled": true, "opacity": 1, "strokeWidth": 0},
          "encoding": {
            "x": {"field": "E", "type": "quantitative", "scale": {"domain": [-4.6, 160], "nice": false},
                  "axis": {"orient": "bottom", "values": [8, 16, 24, 32, 48, 56, 64, 72, 88, 96, 104, 112, 128, 136, 144, 152], "tickSize": -7, "labels": false, "title": null}},
            "y": {"field": "delta", "type": "quantitative", "scale": {"domain": [0, 60], "nice": false},
                  "axis": {"orient": "left", "values": [2, 4, 6, 8, 12, 14, 16, 18, 22, 24, 26, 28, 32, 34, 36, 38, 42, 44, 46, 48, 52, 54, 56, 58], "tickSize": -7, "labels": false, "title": null}},
            "shape": {"field": "series", "type": "nominal", "scale": {"domain": ["¹S₀ (Lattice)", "³S₁ (Lattice)"], "range": ["square", "diamond"]},
                      "legend": {"orient": "none", "legendX": 719, "legendY": 29, "title": null, "labelOffset": 28, "labelFontSize": 31, "rowPadding": 17, "padding": 0, "symbolStrokeWidth": 0}},
            "fill": {"field": "series", "type": "nominal", "scale": {"domain": ["¹S₀ (Lattice)", "³S₁ (Lattice)"], "range": ["#3253ae", "#000000"]},
                     "legend": {"orient": "none", "legendX": 719, "legendY": 29, "title": null, "labelOffset": 28, "labelFontSize": 31, "rowPadding": 17, "padding": 0, "symbolStrokeWidth": 0}},
            "size": {"field": "series", "type": "nominal", "scale": {"domain": ["¹S₀ (Lattice)", "³S₁ (Lattice)"], "range": [289, 450]},
                     "legend": {"orient": "none", "legendX": 719, "legendY": 29, "title": null, "labelOffset": 28, "labelFontSize": 31, "rowPadding": 17, "padding": 0, "symbolStrokeWidth": 0}}
          }
        },
        {
          "data": {"name": "chiral"},
          "mark": {"type": "point", "opacity": 0},
          "encoding": {
            "x": {"field": "E", "type": "quantitative", "scale": {"domain": [-4.6, 160], "nice": false},
                  "axis": {"orient": "top", "values": [0, 40, 80, 120, 160], "tickSize": -14, "labels": false, "title": null}},
            "y": {"field": "delta", "type": "quantitative", "scale": {"domain": [0, 60], "nice": false},
                  "axis": {"orient": "right", "values": [0, 10, 20, 30, 40, 50, 60], "tickSize": -14, "labels": false, "title": null}}
          }
        },
        {
          "data": {"name": "chiral"},
          "mark": {"type": "point", "opacity": 0},
          "encoding": {
            "x": {"field": "E", "type": "quantitative", "scale": {"domain": [-4.6, 160], "nice": false},
                  "axis": {"orient": "top", "values": [8, 16, 24, 32, 48, 56, 64, 72, 88, 96, 104, 112, 128, 136, 144, 152], "tickSize": -7, "labels": false, "title": null}},
            "y": {"field": "delta", "type": "quantitative", "scale": {"domain": [0, 60], "nice": false},
                  "axis": {"orient": "right", "values": [2, 4, 6, 8, 12, 14, 16, 18, 22, 24, 26, 28, 32, 34, 36, 38, 42, 44, 46, 48, 52, 54, 56, 58], "tickSize": -7, "labels": false, "title": null}}
          }
        },
        {
          "data": {"values": [{"label": "LO1015"}]},
          "mark": {"type": "text", "font": "Liberation Sans", "fontSize": 38, "fontWeight": "bold", "color": "#000000", "align": "center", "baseline": "alphabetic"},
          "encoding": {
            "x": {"datum": 81, "type": "quantitative", "scale": {"domain": [-4.6, 160], "nice": false}, "axis": null},
            "y": {"datum": 4.25, "type": "quantitative", "scale": {"domain": [0, 60], "nice": false}, "axis": null},
            "text": {"field": "label"}
          }
        }
      ]
    },
    {
      "width": 322, "height": 325,
      "resolve": {"axis": {"x": "independent", "y": "independent"}},
      "layer": [
        {
          "data": {"name": "chiral"},
          "transform": [{"filter": "datum.panel === 'LO1171'"}],
          "mark": {"type": "line"},
          "encoding": {
            "x": {"field": "E", "type": "quantitative", "scale": {"domain": [-4.6, 160], "nice": false},
                  "axis": {"orient": "bottom", "values": [0, 40, 80, 120, 160], "tickSize": -14, "labelPadding": 36, "labelFontSize": 32, "title": null}},
            "y": {"field": "delta", "type": "quantitative", "scale": {"domain": [0, 60], "nice": false},
                  "axis": {"orient": "left", "values": [0, 10, 20, 30, 40, 50, 60], "tickSize": -14, "labels": false, "title": null}},
            "stroke": {"field": "series", "type": "nominal", "scale": {"domain": ["¹S₀ (Chiral)", "³S₁ (Chiral)"], "range": ["#3253ae", "#000000"]},
                       "legend": {"orient": "none", "legendX": 367, "legendY": 12, "title": null, "symbolSize": 4900, "labelOffset": 10, "labelFontSize": 31, "rowPadding": -29, "padding": 0}},
            "strokeDash": {"field": "series", "type": "nominal", "scale": {"domain": ["¹S₀ (Chiral)", "³S₁ (Chiral)"], "range": [[1, 0], [24, 15]]},
                       "legend": {"orient": "none", "legendX": 367, "legendY": 12, "title": null, "symbolSize": 4900, "labelOffset": 10, "labelFontSize": 31, "rowPadding": -29, "padding": 0}},
            "strokeWidth": {"field": "series", "type": "nominal", "scale": {"domain": ["¹S₀ (Chiral)", "³S₁ (Chiral)"], "range": [3.2, 4.5]},
                       "legend": {"orient": "none", "legendX": 367, "legendY": 12, "title": null, "symbolSize": 4900, "labelOffset": 10, "labelFontSize": 31, "rowPadding": -29, "padding": 0}}
          }
        },
        {
          "data": {"name": "lattice"},
          "transform": [{"filter": "datum.panel === 'LO1171'"}],
          "mark": {"type": "point", "filled": true, "opacity": 1, "strokeWidth": 0},
          "encoding": {
            "x": {"field": "E", "type": "quantitative", "scale": {"domain": [-4.6, 160], "nice": false},
                  "axis": {"orient": "bottom", "values": [8, 16, 24, 32, 48, 56, 64, 72, 88, 96, 104, 112, 128, 136, 144, 152], "tickSize": -7, "labels": false, "title": null}},
            "y": {"field": "delta", "type": "quantitative", "scale": {"domain": [0, 60], "nice": false},
                  "axis": {"orient": "left", "values": [2, 4, 6, 8, 12, 14, 16, 18, 22, 24, 26, 28, 32, 34, 36, 38, 42, 44, 46, 48, 52, 54, 56, 58], "tickSize": -7, "labels": false, "title": null}},
            "shape": {"field": "series", "type": "nominal", "scale": {"domain": ["¹S₀ (Lattice)", "³S₁ (Lattice)"], "range": ["square", "diamond"]},
                      "legend": {"orient": "none", "legendX": 719, "legendY": 29, "title": null, "labelOffset": 28, "labelFontSize": 31, "rowPadding": 17, "padding": 0, "symbolStrokeWidth": 0}},
            "fill": {"field": "series", "type": "nominal", "scale": {"domain": ["¹S₀ (Lattice)", "³S₁ (Lattice)"], "range": ["#3253ae", "#000000"]},
                     "legend": {"orient": "none", "legendX": 719, "legendY": 29, "title": null, "labelOffset": 28, "labelFontSize": 31, "rowPadding": 17, "padding": 0, "symbolStrokeWidth": 0}},
            "size": {"field": "series", "type": "nominal", "scale": {"domain": ["¹S₀ (Lattice)", "³S₁ (Lattice)"], "range": [289, 450]},
                     "legend": {"orient": "none", "legendX": 719, "legendY": 29, "title": null, "labelOffset": 28, "labelFontSize": 31, "rowPadding": 17, "padding": 0, "symbolStrokeWidth": 0}}
          }
        },
        {
          "data": {"name": "chiral"},
          "mark": {"type": "point", "opacity": 0},
          "encoding": {
            "x": {"field": "E", "type": "quantitative", "scale": {"domain": [-4.6, 160], "nice": false},
                  "axis": {"orient": "top", "values": [0, 40, 80, 120, 160], "tickSize": -14, "labels": false, "title": null}},
            "y": {"field": "delta", "type": "quantitative", "scale": {"domain": [0, 60], "nice": false},
                  "axis": {"orient": "right", "values": [0, 10, 20, 30, 40, 50, 60], "tickSize": -14, "labels": false, "title": null}}
          }
        },
        {
          "data": {"name": "chiral"},
          "mark": {"type": "point", "opacity": 0},
          "encoding": {
            "x": {"field": "E", "type": "quantitative", "scale": {"domain": [-4.6, 160], "nice": false},
                  "axis": {"orient": "top", "values": [8, 16, 24, 32, 48, 56, 64, 72, 88, 96, 104, 112, 128, 136, 144, 152], "tickSize": -7, "labels": false, "title": null}},
            "y": {"field": "delta", "type": "quantitative", "scale": {"domain": [0, 60], "nice": false},
                  "axis": {"orient": "right", "values": [2, 4, 6, 8, 12, 14, 16, 18, 22, 24, 26, 28, 32, 34, 36, 38, 42, 44, 46, 48, 52, 54, 56, 58], "tickSize": -7, "labels": false, "title": null}}
          }
        },
        {
          "data": {"values": [{"label": "LO1171"}]},
          "mark": {"type": "text", "font": "Liberation Sans", "fontSize": 38, "fontWeight": "bold", "color": "#000000", "align": "center", "baseline": "alphabetic"},
          "encoding": {
            "x": {"datum": 82, "type": "quantitative", "scale": {"domain": [-4.6, 160], "nice": false}, "axis": null},
            "y": {"datum": 4.25, "type": "quantitative", "scale": {"domain": [0, 60], "nice": false}, "axis": null},
            "text": {"field": "label"}
          }
        }
      ]
    }
  ],
  "config": {
    "view": {"stroke": "#000000", "strokeWidth": 3},
    "axis": {
      "domain": false, "grid": false,
      "tickColor": "#000000", "tickWidth": 2.5,
      "labelColor": "#000000", "labelFont": "Liberation Sans", "labelFontWeight": "bold",
      "labelFlush": false, "labelOverlap": false,
      "titleFont": "Liberation Sans", "titleColor": "#000000", "titleFontWeight": "normal"
    },
    "legend": {"labelFont": "Liberation Sans", "labelColor": "#000000", "labelFontSize": 31, "labelLimit": 400}
  }
}
